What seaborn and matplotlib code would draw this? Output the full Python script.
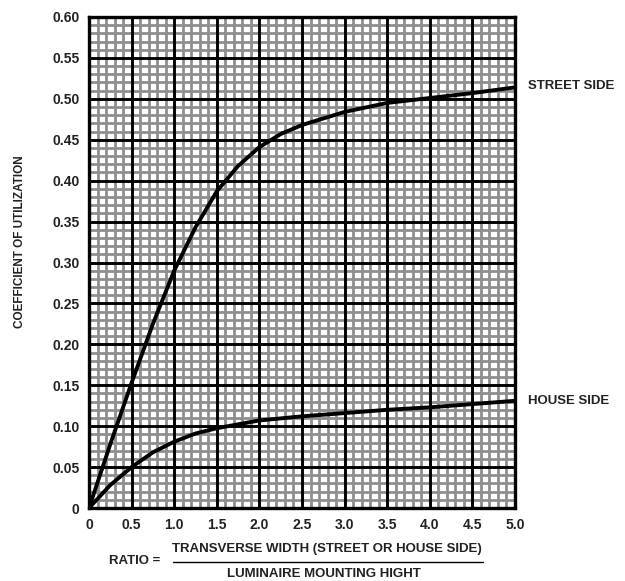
import matplotlib
matplotlib.use("Agg")
import matplotlib.pyplot as plt
import seaborn as sns
import pandas as pd
from matplotlib.ticker import MultipleLocator, FixedLocator

sns.set_style("white")
plt.rcParams['font.family'] = ['Liberation Sans', 'DejaVu Sans']

# ---- data ----
street_x = [0, 0.25, 0.5, 0.75, 1.0, 1.25, 1.5, 1.75, 2.0, 2.25, 2.5, 3.0, 3.5, 4.0, 4.5, 5.0]
street_y = [0, 0.078, 0.153, 0.225, 0.290, 0.343, 0.387, 0.418, 0.441, 0.457, 0.468, 0.484, 0.495, 0.501, 0.507, 0.514]
house_x = [0, 0.25, 0.5, 0.75, 1.0, 1.25, 1.5, 2.0, 2.5, 3.0, 3.5, 4.0, 4.5, 5.0]
house_y = [0, 0.028, 0.050, 0.068, 0.081, 0.091, 0.0975, 0.107, 0.112, 0.116, 0.120, 0.123, 0.127, 0.131]

x_ticks = [0, 0.5, 1.0, 1.5, 2.0, 2.5, 3.0, 3.5, 4.0, 4.5, 5.0]
x_tick_labels = ["0", "0.5", "1.0", "1.5", "2.0", "2.5", "3.0", "3.5", "4.0", "4.5", "5.0"]
y_ticks = [0, 0.05, 0.10, 0.15, 0.20, 0.25, 0.30, 0.35, 0.40, 0.45, 0.50, 0.55, 0.60]
y_tick_labels = ["0", "0.05", "0.10", "0.15", "0.20", "0.25", "0.30", "0.35", "0.40", "0.45", "0.50", "0.55", "0.60"]

series_names = ["STREET SIDE", "HOUSE SIDE"]

df = pd.concat([
    pd.DataFrame({"ratio": street_x, "cu": street_y, "side": series_names[0]}),
    pd.DataFrame({"ratio": house_x, "cu": house_y, "side": series_names[1]}),
])

fig = plt.figure(figsize=(6.25, 5.81), dpi=100)
ax = fig.add_axes([89/625, 1 - 508/581, 426/625, 491/581])

sns.lineplot(data=df, x="ratio", y="cu", hue="side", palette=["black", "black"],
             linewidth=2.8, ax=ax, legend=False, sort=False, zorder=5)

ax.set_xlim(0, 5.0)
ax.set_ylim(0, 0.60)

# graph-paper grid: fine gray minor grid, heavy black major lines on top
ax.xaxis.set_major_locator(FixedLocator(x_ticks))
ax.yaxis.set_major_locator(FixedLocator(y_ticks))
ax.xaxis.set_minor_locator(MultipleLocator(0.1))
ax.yaxis.set_minor_locator(MultipleLocator(0.01))
ax.grid(which="minor", color="#8f8f8f", linewidth=2.0)
ax.grid(which="major", visible=False)
ax.set_axisbelow(True)
ax.vlines(x_ticks, 0, 0.60, colors="black", linewidth=2.1, zorder=3)
ax.hlines(y_ticks, 0, 5.0, colors="black", linewidth=2.1, zorder=3)

ax.set_xticklabels(x_tick_labels, fontsize=10, fontweight="bold", color="#222222")
ax.set_yticklabels(y_tick_labels, fontsize=10, fontweight="bold", color="#222222")
ax.tick_params(axis="both", which="both", length=0)
ax.tick_params(axis="y", pad=7)
ax.tick_params(axis="x", pad=7)

for s in ax.spines.values():
    s.set_color("black")
    s.set_linewidth(2.4)
    s.set_zorder(6)

ax.set_xlabel("")
ax.set_ylabel("")

# end labels
ax.annotate(series_names[0], xy=(5.0, street_y[-1]), xytext=(9, 1), textcoords="offset points",
            fontsize=9.5, fontweight="bold", va="center", ha="left", annotation_clip=False,
            color="#222222")
ax.annotate(series_names[1], xy=(5.0, house_y[-1]), xytext=(9, 0), textcoords="offset points",
            fontsize=9.5, fontweight="bold", va="center", ha="left", annotation_clip=False,
            color="#222222")

# y axis title
fig.text(20/625, 1 - 242/581, "COEFFICIENT OF UTILIZATION", rotation=90,
         fontsize=8.5, fontweight="bold", ha="center", va="center", color="#222222")

# x axis title as a fraction
fig.text(135/625, 1 - 561/581, "RATIO =", fontsize=9.5, fontweight="bold",
         ha="center", va="center", color="#222222")
fig.text(327/625, 1 - 549/581, "TRANSVERSE WIDTH (STREET OR HOUSE SIDE)", fontsize=9.5,
         fontweight="bold", ha="center", va="center", color="#222222")
fig.text(324/625, 1 - 574/581, "LUMINAIRE MOUNTING HIGHT", fontsize=9.5,
         fontweight="bold", ha="center", va="center", color="#222222")
fig.add_artist(plt.Line2D([173/625, 483/625], [1 - 562/581, 1 - 562/581],
                          transform=fig.transFigure, color="black", linewidth=1.0))

fig.savefig("out.png", dpi=100)
